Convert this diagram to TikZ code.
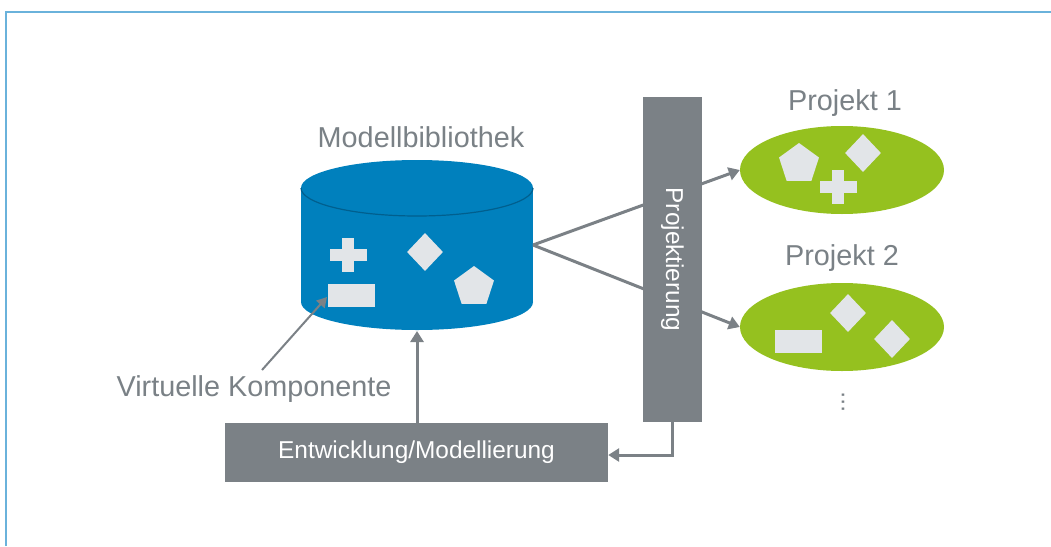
\documentclass[tikz,border=0pt]{standalone}
\usepackage{fontspec}
\setmainfont{Liberation Sans}
\usetikzlibrary{arrows.meta,shapes.geometric}
\definecolor{txtgray}{HTML}{7A8186}
\definecolor{boxgray}{HTML}{7B8186}
\definecolor{libblue}{HTML}{0080BD}
\definecolor{libedge}{HTML}{005F8E}
\definecolor{projgreen}{HTML}{95C11F}
\definecolor{shapegray}{HTML}{E2E5E8}
\definecolor{framebl}{HTML}{6AB2DB}
\tikzset{
  lbl/.style={text=txtgray, font=\fontsize{28.8}{31}\selectfont, inner sep=0},
  graybox/.style={fill=boxgray, text=white, inner sep=0, font=\fontsize{24.4}{26}\selectfont},
  proj/.style={ellipse, fill=projgreen, minimum width=204, minimum height=88, inner sep=0},
  pent/.style={regular polygon, regular polygon sides=5, fill=shapegray, minimum size=42, inner sep=0},
  diam/.style={diamond, fill=shapegray, minimum width=36, minimum height=38, inner sep=0},
  comp/.style={rectangle, fill=shapegray, minimum width=47, minimum height=23, inner sep=0},
  conn/.style={draw=boxgray, line width=3pt, -{Triangle[length=11pt,width=13pt]}},
  thinconn/.style={draw=boxgray, line width=2pt, -{Triangle[length=10pt,width=11pt]}},
}
\newcommand{\plusat}[1]{%
  \fill[shapegray] (#1) ++(-18.5,-6) rectangle ++(37,12);
  \fill[shapegray] (#1) ++(-6,-17) rectangle ++(12,34);}
\begin{document}
\begin{tikzpicture}[x=1pt,y=-1pt]
\useasboundingbox (0,0) rectangle (1051,546);
\fill[white] (0,0) rectangle (1051,546);
% frame
\draw[framebl, line width=2pt] (6,546) -- (6,12) -- (1051,12);

% cylinder (Modellbibliothek)
\fill[libblue] (301,188) rectangle (533,302);
\fill[libblue] (417,302) ellipse [x radius=116, y radius=28];
\fill[libblue] (417,188) ellipse [x radius=116, y radius=28];
\draw[libedge, line width=1.2pt] (533,188) arc [start angle=0, end angle=180, x radius=116, y radius=28];
\coordinate (libR) at (533,245);
\coordinate (libB) at (417,331);
\node[lbl] (libT) at (421,137) {Modellbibliothek};
\node[comp] (vc) at (351.5,295) {};
\plusat{348,255}
\node[diam] (ld) at (425,252) {};
\node[pent] (lp) at (474,287) {};

% projects
\node[proj] (p1) at (842,170) {};
\node[proj] (p2) at (842,327) {};
\node[lbl] (p1t) at (845,103) {Projekt 1};
\node[lbl] (p2t) at (842,258) {Projekt 2};
\node[pent] (p1p) at (799,164) {};
\node[diam] (p1d) at (863,153) {};
\plusat{838,187}
\node[diam] (p2d1) at (848,313) {};
\node[diam] (p2d2) at (892,339) {};
\node[comp] (p2r) at (798.5,341.5) {};
\node[text=txtgray, font=\fontsize{24}{10}\selectfont, inner sep=0, rotate=90] (dots) at (843,402) {...};

% connectors library -> projects (behind bar)
\draw[conn] (libR) -- (p1.west);
\draw[conn] (libR) -- (p2.west);

% Projektierung bar
\node[graybox, minimum width=59, minimum height=325] (bar) at (672.5,259.5) {};
\node[text=white, font=\fontsize{24.4}{26}\selectfont, rotate=-90, inner sep=0] (bart) at (bar.center) {Projektierung};

% Entwicklung box
\node[graybox, minimum width=383, minimum height=59] (dev) at (416.5,452.5) {Entwicklung/Modellierung};

% connectors
\draw[conn] (dev.north -| libB) -- (libB);
\draw[conn] (bar.south) |- (dev.east |- 0,455);
\node[lbl] (vk) at (254,389) {Virtuelle Komponente};
\coordinate (vkS) at (262,370);
\draw[thinconn] (vkS) -- (327,297);
\end{tikzpicture}
\end{document}
